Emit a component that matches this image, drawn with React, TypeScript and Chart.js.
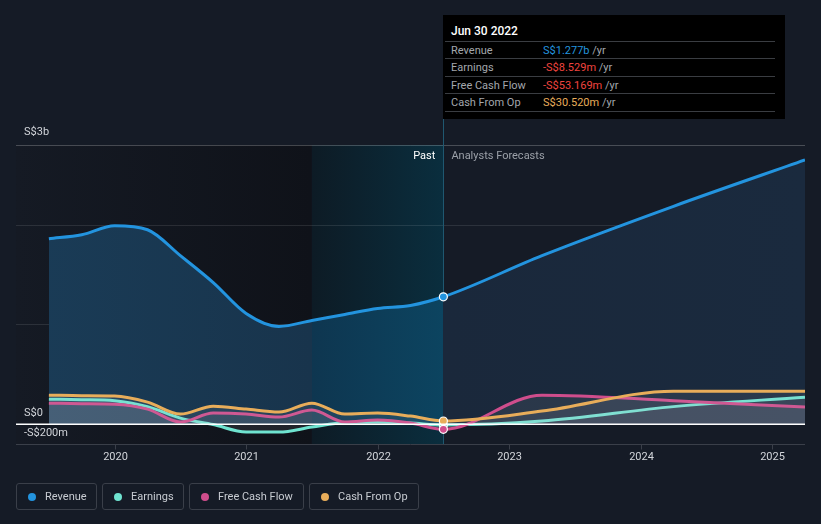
import React, { useEffect, useRef } from "react";
import { Chart, registerables } from "chart.js";

Chart.register(...registerables);

// ---- DATA (S$ millions, x = decimal year) ----
const periods = [
  2019.5, 2019.75, 2020.0, 2020.25, 2020.5, 2020.75, 2021.0, 2021.25, 2021.5,
  2021.75, 2022.0, 2022.25, 2022.5, 2023.25, 2024.25, 2025.25,
];
const revenue = [1860, 1900, 1990, 1950, 1690, 1420, 1110, 980, 1040, 1100, 1160, 1190, 1277, 1690, 2185, 2650];
const earnings = [250, 245, 235, 175, 60, -5, -80, -80, -30, 15, 20, 10, -8.529, 30, 175, 270];
const freeCashFlow = [210, 205, 200, 150, 20, 110, 100, 70, 140, 20, 40, 10, -53.169, 290, 235, 170];
const cashFromOp = [290, 285, 282, 220, 100, 180, 150, 120, 210, 100, 110, 80, 30.52, 130, 330, 330];

const xTickYears = [2020, 2021, 2022, 2023, 2024, 2025];
const xTickLabels = ["2020", "2021", "2022", "2023", "2024", "2025"];
const gridValues = [1000, 2000, 2800];
const yLabelValues = [2800, 0, -200];
const yLabelTexts = ["S$3b", "S$0", "-S$200m"];

const todayX = 2022.5;
const bandStartX = 2021.5;

const seriesNames = ["Revenue", "Earnings", "Free Cash Flow", "Cash From Op"];
const seriesColors = ["#2394df", "#6fe3d0", "#cf4d8c", "#e8ad5a"];
const tooltipTitle = "Jun 30 2022";
const tooltipValues = ["S$1.277b", "-S$8.529m", "-S$53.169m", "S$30.520m"];
const tooltipValueColors = ["#2394df", "#f0443f", "#f0443f", "#e8ad5a"];

const FONT = "Roboto, 'Noto Sans', sans-serif";

function pts(vals: number[]) {
  return vals.map((v, i) => ({ x: periods[i], y: v }));
}

const decorPlugin = {
  id: "decor",
  beforeDatasetsDraw(chart: any) {
    const { ctx, chartArea, scales } = chart;
    const xs = scales.x;
    const ys = scales.y;
    const top = chartArea.top;
    const bottom = chartArea.bottom;
    const left = chartArea.left;
    const right = chartArea.right;
    const xBand = xs.getPixelForValue(bandStartX);
    const xToday = xs.getPixelForValue(todayX);
    ctx.save();
    // darker past region
    const g1 = ctx.createLinearGradient(left, 0, xBand, 0);
    g1.addColorStop(0, "#151a24");
    g1.addColorStop(1, "#0f1219");
    ctx.fillStyle = g1;
    ctx.fillRect(left, top, xBand - left, bottom - top);
    // highlighted band
    const g2 = ctx.createLinearGradient(xBand, 0, xToday, 0);
    g2.addColorStop(0, "#0d1b25");
    g2.addColorStop(1, "#0a2e3e");
    ctx.fillStyle = g2;
    ctx.fillRect(xBand, top, xToday - xBand, bottom - top);
    // gridlines
    ctx.lineWidth = 1;
    gridValues.forEach((v, i) => {
      const y = Math.round(ys.getPixelForValue(v)) + 0.5;
      ctx.strokeStyle = i === gridValues.length - 1 ? "rgba(255,255,255,0.22)" : "rgba(255,255,255,0.1)";
      ctx.beginPath();
      ctx.moveTo(left, y);
      ctx.lineTo(right, y);
      ctx.stroke();
    });
    // divider line
    ctx.strokeStyle = "#1f5870";
    ctx.beginPath();
    ctx.moveTo(Math.round(xToday) + 0.5, 15);
    ctx.lineTo(Math.round(xToday) + 0.5, bottom);
    ctx.stroke();
    // bottom axis line + ticks
    const yb = Math.round(ys.getPixelForValue(-200)) + 0.5;
    ctx.strokeStyle = "#3a3f49";
    ctx.beginPath();
    ctx.moveTo(left, yb);
    ctx.lineTo(right, yb);
    ctx.stroke();
    ctx.fillStyle = "#d2d5da";
    ctx.font = `11px ${FONT}`;
    ctx.textAlign = "center";
    ctx.textBaseline = "middle";
    xTickYears.forEach((yr, i) => {
      const x = Math.round(xs.getPixelForValue(yr)) + 0.5;
      ctx.beginPath();
      ctx.moveTo(x, yb);
      ctx.lineTo(x, yb + 5);
      ctx.stroke();
      ctx.fillText(xTickLabels[i], x, 457);
    });
    // y labels
    ctx.textAlign = "left";
    yLabelValues.forEach((v, i) => {
      const y = ys.getPixelForValue(v);
      ctx.fillText(yLabelTexts[i], 24, v === 2800 ? y - 13 : y - 11);
    });
    // Past / Analysts Forecasts
    ctx.textAlign = "right";
    ctx.fillStyle = "#ffffff";
    ctx.fillText("Past", xToday - 8, 156);
    ctx.textAlign = "left";
    ctx.fillStyle = "#9ba0a8";
    ctx.fillText("Analysts Forecasts", xToday + 8, 156);
    ctx.restore();
  },
  afterDatasetsDraw(chart: any) {
    const { ctx, chartArea, scales } = chart;
    const y0 = Math.round(scales.y.getPixelForValue(0));
    ctx.save();
    ctx.fillStyle = "#ffffff";
    ctx.fillRect(chartArea.left, y0 - 0.5, chartArea.right - chartArea.left, 1.5);
    ctx.restore();
  },
};

export default function App() {
  const canvasRef = useRef<HTMLCanvasElement | null>(null);

  useEffect(() => {
    document.body.style.margin = "0";
    const canvas = canvasRef.current;
    if (!canvas) return;

    const revenueFill = (c: any) => {
      const chart = c.chart;
      const area = chart.chartArea;
      if (!area) return "rgba(26,61,88,1)";
      const xs = chart.scales.x;
      const l = area.left;
      const w = area.right - area.left;
      const pb = (xs.getPixelForValue(bandStartX) - l) / w;
      const pt = (xs.getPixelForValue(todayX) - l) / w;
      const g = chart.ctx.createLinearGradient(l, 0, area.right, 0);
      g.addColorStop(0, "#1a3c57");
      g.addColorStop(pb, "#18344c");
      g.addColorStop(pb + 0.0001, "#0e3650");
      g.addColorStop(pt, "#0c4460");
      g.addColorStop(pt + 0.0001, "#1a283b");
      g.addColorStop(1, "#1a2a3e");
      return g;
    };

    const pointR = (c: any) => (c.raw && c.raw.x === todayX ? 4 : 0);

    const mk = (label: string, vals: number[], color: string, fill: any, order: number) => ({
      label,
      data: pts(vals),
      borderColor: color,
      backgroundColor: fill,
      fill: "origin",
      borderWidth: 3,
      cubicInterpolationMode: "monotone" as const,
      pointRadius: pointR,
      pointHoverRadius: pointR,
      pointBackgroundColor: color,
      pointBorderColor: "#ffffff",
      pointBorderWidth: 1.2,
      order,
    });

    const chart = new Chart(canvas, {
      type: "line",
      data: {
        datasets: [
          mk(seriesNames[0], revenue, seriesColors[0], revenueFill, 4),
          mk(seriesNames[1], earnings, seriesColors[1], "rgba(210,210,220,0.09)", 3),
          mk(seriesNames[2], freeCashFlow, seriesColors[2], "rgba(210,210,220,0.09)", 2),
          mk(seriesNames[3], cashFromOp, seriesColors[3], "rgba(210,210,220,0.09)", 1),
        ],
      },
      options: {
        animation: false,
        responsive: false,
        events: [],
        layout: { padding: { left: 16, right: 16, top: 145, bottom: 80 } },
        scales: {
          x: { type: "linear", min: 2019.25, max: 2025.25, display: false },
          y: { type: "linear", min: -200, max: 2800, display: false },
        },
        plugins: {
          legend: { display: false },
          tooltip: { enabled: false },
        },
      },
      plugins: [decorPlugin],
    });
    return () => chart.destroy();
  }, []);

  const rowTops = [41, 58, 76, 93];
  const legendBoxes = [
    { left: 16, width: 81 },
    { left: 102, width: 82 },
    { left: 189, width: 115 },
    { left: 309, width: 110 },
  ];

  return (
    <div
      style={{
        position: "fixed",
        left: 0,
        top: 0,
        width: 821,
        height: 524,
        background: "#151b26",
        fontFamily: FONT,
        overflow: "hidden",
      }}
    >
      <canvas ref={canvasRef} width={821} height={524} style={{ position: "absolute", left: 0, top: 0, width: 821, height: 524 }} />
      {/* tooltip box */}
      <div
        style={{
          position: "absolute",
          left: 443,
          top: 15,
          width: 342,
          height: 104,
          background: "#000000",
        }}
      >
        <div style={{ position: "absolute", left: 8, top: 9, color: "#ffffff", fontSize: 12, fontWeight: 500 }}>{tooltipTitle}</div>
        {seriesNames.map((n, i) => (
          <div key={n}>
            <div
              style={{
                position: "absolute",
                left: 2,
                top: rowTops[i] - 15,
                width: 330,
                height: 1,
                background: "#3a3d42",
              }}
            />
            <div style={{ position: "absolute", left: 8, top: rowTops[i] - 14, color: "#a3a7ad", fontSize: 11, lineHeight: "17px" }}>{n}</div>
            <div style={{ position: "absolute", left: 100, top: rowTops[i] - 14, fontSize: 11, lineHeight: "17px", whiteSpace: "nowrap" }}>
              <span style={{ color: tooltipValueColors[i] }}>{tooltipValues[i]}</span>
              <span style={{ color: "#a3a7ad" }}> /yr</span>
            </div>
          </div>
        ))}
        <div style={{ position: "absolute", left: 2, top: 96, width: 330, height: 1, background: "#3a3d42" }} />
      </div>
      {/* legend */}
      {seriesNames.map((n, i) => (
        <div
          key={n}
          style={{
            position: "absolute",
            left: legendBoxes[i].left,
            top: 483,
            width: legendBoxes[i].width,
            height: 27,
            boxSizing: "border-box",
            border: "1px solid #3a3f49",
            borderRadius: 3,
            display: "flex",
            alignItems: "center",
          }}
        >
          <span
            style={{
              display: "inline-block",
              width: 8,
              height: 8,
              borderRadius: "50%",
              background: seriesColors[i],
              marginLeft: 11,
              marginRight: 9,
            }}
          />
          <span style={{ color: "#c8ccd2", fontSize: 11 }}>{n}</span>
        </div>
      ))}
    </div>
  );
}
